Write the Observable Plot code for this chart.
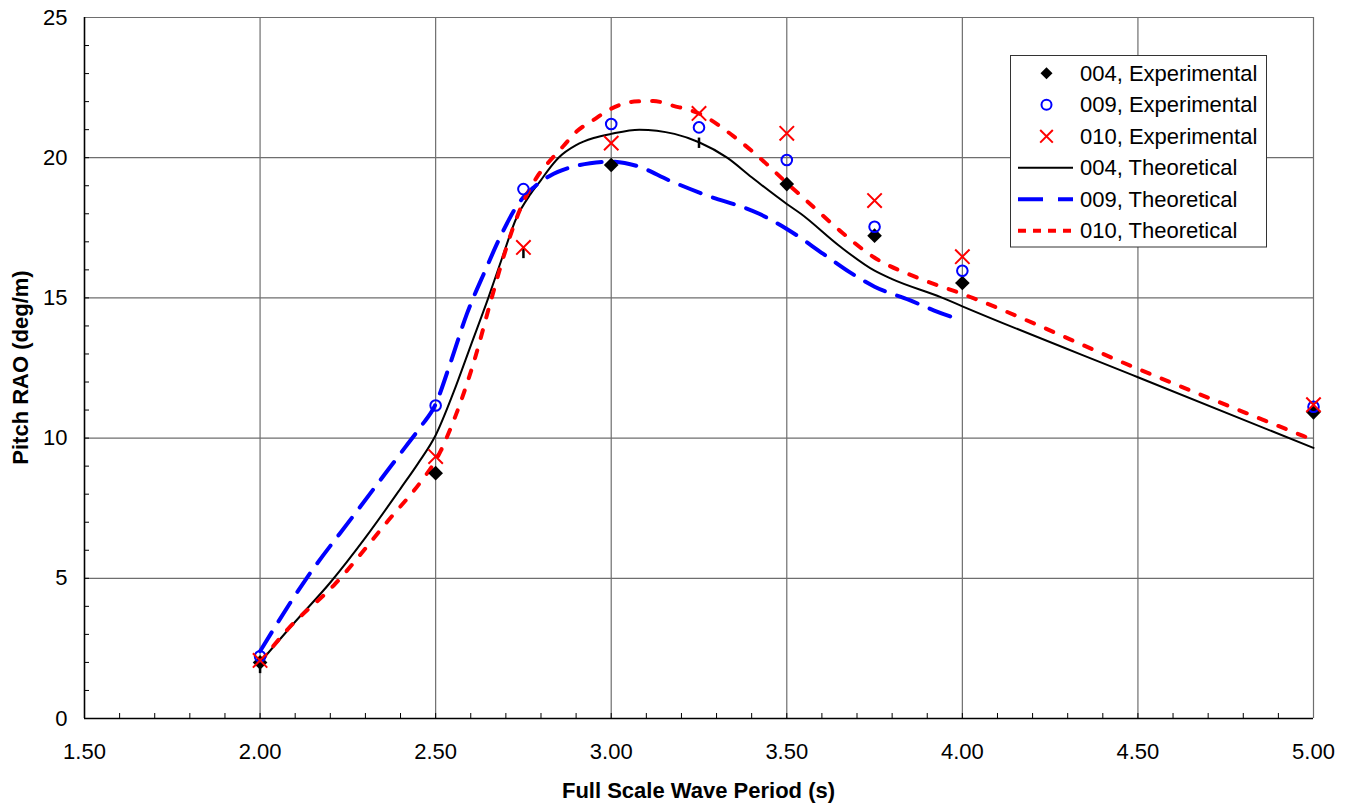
<!DOCTYPE html>
<html><head><meta charset="utf-8">
<script src="https://cdn.jsdelivr.net/npm/d3@7"></script>
<script src="https://cdn.jsdelivr.net/npm/@observablehq/plot@0.6"></script>
<style>body{margin:0;background:#fff;}</style>
</head><body><div id="chart"></div>
<script>
// ---- Data ----
const expPeriods = [2.00, 2.50, 2.75, 3.00, 3.25, 3.50, 3.75, 4.00, 5.00];
const exp004Periods = [2.00, 2.50, 3.00, 3.50, 3.75, 4.00, 5.00];
const exp004 = [2.0, 8.75, 19.74, 19.06, 17.22, 15.53, 10.92];
const exp009 = [2.22, 11.16, 18.88, 21.2, 21.08, 19.92, 17.54, 15.97, 11.12];
const exp010 = [2.07, 9.34, 16.8, 20.52, 21.58, 20.87, 18.47, 16.47, 11.19];

const th004Periods = [2.00, 2.10, 2.20, 2.30, 2.40, 2.45, 2.50, 2.55, 2.60, 2.65, 2.69, 2.73, 2.77, 2.80, 2.82, 2.85, 2.90, 2.95, 3.00, 3.08, 3.18, 3.25, 3.33, 3.40, 3.50, 3.54, 3.65, 3.75, 3.80, 3.94, 4.00, 4.50, 5.00];
const th004 = [2.0, 3.45, 4.85, 6.45, 8.2, 9.1, 10.1, 11.6, 13.3, 15.0, 16.45, 17.85, 18.7, 19.2, 19.55, 20.0, 20.45, 20.7, 20.85, 21.0, 20.85, 20.55, 20.0, 19.3, 18.35, 18.0, 16.85, 15.97, 15.67, 15.02, 14.7, 12.17, 9.65];

const th009Periods = [2.00, 2.128, 2.27, 2.413, 2.46, 2.498, 2.541, 2.589, 2.641, 2.688, 2.735, 2.78, 2.826, 2.883, 2.94, 3.00, 3.072, 3.167, 3.262, 3.423, 3.50, 3.604, 3.68, 3.75, 3.85, 3.92, 4.00];
const th009 = [2.4, 4.92, 7.3, 9.67, 10.45, 11.16, 12.64, 14.43, 15.97, 17.28, 18.35, 18.95, 19.36, 19.65, 19.8, 19.86, 19.71, 19.18, 18.7, 17.99, 17.46, 16.57, 15.91, 15.4, 14.92, 14.55, 14.19];

const th010Periods = [2.00, 2.08, 2.21, 2.365, 2.46, 2.50, 2.555, 2.607, 2.66, 2.693, 2.735, 2.788, 2.821, 2.862, 2.902, 2.949, 3.00, 3.065, 3.12, 3.177, 3.253, 3.347, 3.442, 3.50, 3.556, 3.651, 3.748, 3.87, 4.00, 4.50, 5.00];
const th010 = [2.0, 3.2, 4.75, 7.06, 8.48, 9.2, 10.74, 12.64, 15.02, 16.45, 17.99, 19.3, 19.83, 20.39, 20.94, 21.34, 21.75, 22.0, 22.02, 21.85, 21.56, 20.78, 19.78, 19.1, 18.47, 17.4, 16.45, 15.73, 15.14, 12.47, 9.93];

// small black bars hanging below some markers
const barPeriods = [2.00, 2.75, 3.25];
const barTop = [2.07, 16.79, 20.7];
const barBottom = [1.6, 16.4, 20.33];

const xTicks = [1.5, 2.0, 2.5, 3.0, 3.5, 4.0, 4.5, 5.0];
const xTickLabels = ["1.50", "2.00", "2.50", "3.00", "3.50", "4.00", "4.50", "5.00"];
const yTicks = [0, 5, 10, 15, 20, 25];
const xMinor = d3.range(16, 50).map(d => d / 10);
const yMinor = d3.range(1, 25);

const xTitle = "Full Scale Wave Period (s)";
const yTitle = "Pitch RAO (deg/m)";
const legendLabels = ["004, Experimental", "009, Experimental", "010, Experimental", "004, Theoretical", "009, Theoretical", "010, Theoretical"];

// ---- Build tables ----
const zip = (xs, ys) => xs.map((x, i) => ({x, y: ys[i]}));
const e004 = zip(exp004Periods, exp004);
const e009 = zip(expPeriods, exp009);
const e010 = zip(expPeriods, exp010);
const t004 = zip(th004Periods, th004);
const t009 = zip(th009Periods, th009);
const t010 = zip(th010Periods, th010);
const bars = barPeriods.map((x, i) => ({x, y1: barTop[i], y2: barBottom[i]}));

const W = 1351, H = 808, mL = 84, mR = 38, mT = 17, mB = 90;
const frameW = W - mL - mR, frameH = H - mT - mB;
const font = "'Liberation Sans', Arial, sans-serif";

const RED = "#ff0000", BLUE = "#0000ff";
const diamondR = 6.6, circleR = 5.3, timesR = 6.6;

const chart = Plot.plot({
  width: W, height: H,
  marginLeft: mL, marginRight: mR, marginTop: mT, marginBottom: mB,
  style: {fontSize: "22px", fontFamily: font, background: "#fff", color: "#000", overflow: "visible"},
  x: {domain: [1.5, 5], label: null},
  y: {domain: [0, 25], label: null},
  marks: [
    Plot.gridX(xTicks, {stroke: "#6e6e6e", strokeOpacity: 1, strokeWidth: 1.2}),
    Plot.gridY(yTicks, {stroke: "#6e6e6e", strokeOpacity: 1, strokeWidth: 1.2}),
    Plot.tickX(xMinor, {x: d => d, insetTop: frameH - 5, stroke: "#000", strokeWidth: 1}),
    Plot.tickY(yMinor, {y: d => d, insetRight: frameW - 5, stroke: "#000", strokeWidth: 1}),
    Plot.ruleX([1.5], {stroke: "#000", strokeWidth: 1.5}),
    Plot.ruleY([0], {stroke: "#000", strokeWidth: 1.5}),
    Plot.axisX({ticks: xTicks, tickFormat: (d) => xTickLabels[xTicks.indexOf(d)], tickSize: 0, tickPadding: 25, label: null, fontSize: 22}),
    Plot.axisY({ticks: yTicks, tickSize: 0, tickPadding: 17, label: null, fontSize: 22}),
    Plot.line(t004, {x: "x", y: "y", stroke: "#000", strokeWidth: 2, curve: "monotone-x"}),
    Plot.line(t009, {x: "x", y: "y", stroke: BLUE, strokeWidth: 4, strokeDasharray: "22,13", curve: "monotone-x"}),
    Plot.line(t010, {x: "x", y: "y", stroke: RED, strokeWidth: 4, strokeDasharray: "8,13", curve: "monotone-x"}),
    Plot.ruleX(bars, {x: "x", y1: "y1", y2: "y2", stroke: "#000", strokeWidth: 2.5}),
    Plot.dot(e004, {x: "x", y: "y", symbol: "diamond2", r: diamondR, fill: "#000", stroke: "none"}),
    Plot.dot(e009, {x: "x", y: "y", symbol: "circle", r: circleR, fill: "none", stroke: BLUE, strokeWidth: 2}),
    Plot.dot(e010, {x: "x", y: "y", symbol: "times", r: timesR, fill: "none", stroke: RED, strokeWidth: 2})
  ]
});

document.getElementById("chart").appendChild(chart);
const svg = d3.select(chart);

// Axis titles
svg.append("text").attr("x", mL + frameW / 2).attr("y", 790)
  .attr("text-anchor", "middle").attr("dominant-baseline", "central")
  .attr("font-weight", "bold").attr("font-size", 22).attr("font-family", font).attr("fill", "#000")
  .text(xTitle);
svg.append("text").attr("transform", `translate(20,${mT + frameH / 2}) rotate(-90)`)
  .attr("text-anchor", "middle").attr("dominant-baseline", "central")
  .attr("font-weight", "bold").attr("font-size", 22).attr("font-family", font).attr("fill", "#000")
  .text(yTitle);

// Legend
const lg = svg.append("g");
lg.append("rect").attr("x", 1010.5).attr("y", 55.5).attr("width", 256).attr("height", 191.5)
  .attr("fill", "#fff").attr("stroke", "#333").attr("stroke-width", 1);
const symX = 1046.5, lineX1 = 1018, lineX2 = 1073, textX = 1080;
legendLabels.forEach((lab, i) => {
  const cy = 73.3 + i * 31.5;
  const g = lg.append("g");
  if (i === 0) g.append("path").attr("transform", `translate(${symX},${cy})`).attr("d", d3.symbol(d3.symbolDiamond2, Math.PI * 5.4 * 5.4)()).attr("fill", "#000");
  if (i === 1) g.append("circle").attr("cx", symX).attr("cy", cy).attr("r", 5).attr("fill", "none").attr("stroke", BLUE).attr("stroke-width", 2);
  if (i === 2) g.append("path").attr("transform", `translate(${symX},${cy})`).attr("d", d3.symbol(d3.symbolTimes, Math.PI * 5.8 * 5.8)()).attr("fill", "none").attr("stroke", RED).attr("stroke-width", 2);
  if (i === 3) g.append("line").attr("x1", lineX1).attr("x2", lineX2).attr("y1", cy).attr("y2", cy).attr("stroke", "#000").attr("stroke-width", 2);
  if (i === 4) g.append("line").attr("x1", lineX1).attr("x2", lineX2).attr("y1", cy).attr("y2", cy).attr("stroke", BLUE).attr("stroke-width", 4).attr("stroke-dasharray", "25,15");
  if (i === 5) g.append("line").attr("x1", lineX1).attr("x2", lineX2).attr("y1", cy).attr("y2", cy).attr("stroke", RED).attr("stroke-width", 4).attr("stroke-dasharray", "8,7");
  g.append("text").attr("x", textX).attr("y", cy).attr("text-anchor", "start").attr("dominant-baseline", "central")
    .attr("font-size", 22).attr("font-family", font).attr("fill", "#000").text(lab);
});
</script>
</body></html>
